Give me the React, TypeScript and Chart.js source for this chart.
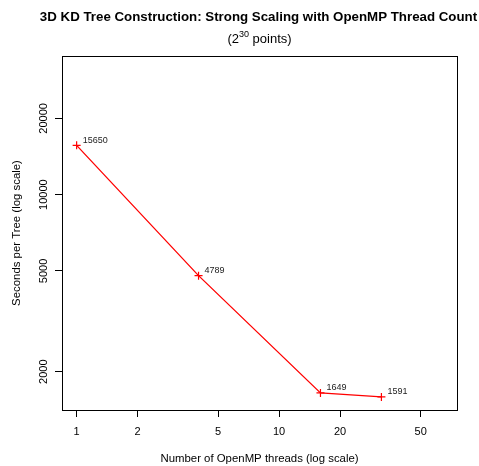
import React, { useEffect, useRef } from "react";
import { Chart, registerables } from "chart.js";

Chart.register(...registerables);

// ---- data ----
const threads = [1, 4, 16, 32];
const secondsPerTree = [15650, 4789, 1649, 1591];
const pointLabels = ["15650", "4789", "1649", "1591"];
const xTickValues = [1, 2, 5, 10, 20, 50];
const yTickValues = [2000, 5000, 10000, 20000];
const titleText = "3D KD Tree Construction: Strong Scaling with OpenMP Thread Count";
const subtitleBase = "(2";
const subtitleSup = "30";
const subtitleRest = " points)";
const xTitle = "Number of OpenMP threads (log scale)";
const yTitle = "Seconds per Tree (log scale)";
// R-style limits (xlim = c(1, 64), ylim = range(y)*c(1,2)) with 4% padding in log space
const xLim = [1, 64];
const yLim = [1591, 31300];

const FONT = "'Liberation Sans', Arial, Helvetica, sans-serif";

function padLog(lim: number[]) {
  const a = Math.log10(lim[0]);
  const b = Math.log10(lim[1]);
  const d = (b - a) * 0.04;
  return [Math.pow(10, a - d), Math.pow(10, b + d)];
}

export default function App() {
  const ref = useRef<HTMLCanvasElement | null>(null);

  useEffect(() => {
    if (!ref.current) return;
    const [xmin, xmax] = padLog(xLim);
    const [ymin, ymax] = padLog(yLim);

    const boxPlugin = {
      id: "rbox",
      afterDraw(chart: any) {
        const { ctx, chartArea } = chart;
        ctx.save();
        ctx.strokeStyle = "#000";
        ctx.lineWidth = 1;
        ctx.strokeRect(
          Math.round(chartArea.left) + 0.5,
          Math.round(chartArea.top) + 0.5,
          Math.round(chartArea.right - chartArea.left),
          Math.round(chartArea.bottom - chartArea.top)
        );
        ctx.restore();
      },
    };

    const titlePlugin = {
      id: "rtitle",
      afterDraw(chart: any) {
        const { ctx, chartArea } = chart;
        const cx = (chartArea.left + chartArea.right) / 2;
        ctx.save();
        ctx.fillStyle = "#000";
        ctx.textBaseline = "alphabetic";
        ctx.textAlign = "center";
        ctx.font = `bold 13.3px ${FONT}`;
        ctx.fillText(titleText, cx - 1, 21);
        ctx.textAlign = "left";
        ctx.font = `13px ${FONT}`;
        const w1 = ctx.measureText(subtitleBase).width;
        const w3 = ctx.measureText(subtitleRest).width;
        ctx.font = `9px ${FONT}`;
        const w2 = ctx.measureText(subtitleSup).width;
        let x = cx - (w1 + w2 + w3) / 2;
        ctx.font = `13px ${FONT}`;
        ctx.fillText(subtitleBase, x, 43);
        x += w1;
        ctx.font = `9px ${FONT}`;
        ctx.fillText(subtitleSup, x, 37);
        x += w2;
        ctx.font = `13px ${FONT}`;
        ctx.fillText(subtitleRest, x, 43);
        ctx.restore();
      },
    };

    const labelPlugin = {
      id: "rlabels",
      afterDatasetsDraw(chart: any) {
        const { ctx } = chart;
        const meta = chart.getDatasetMeta(0);
        ctx.save();
        ctx.fillStyle = "#222";
        ctx.font = `9px ${FONT}`;
        ctx.textAlign = "left";
        ctx.textBaseline = "middle";
        meta.data.forEach((el: any, i: number) => {
          ctx.fillText(pointLabels[i], el.x + 6, el.y - 5);
        });
        ctx.restore();
      },
    };

    const chart = new Chart(ref.current, {
      type: "line",
      data: {
        datasets: [
          {
            data: threads.map((t, i) => ({ x: t, y: secondsPerTree[i] })),
            borderColor: "#ff0000",
            backgroundColor: "#ff0000",
            borderWidth: 1.3,
            pointStyle: "cross",
            pointRadius: 4,
            pointBorderWidth: 1.2,
            pointBorderColor: "#ff0000",
            fill: false,
            tension: 0,
          },
        ],
      },
      options: {
        animation: false,
        responsive: false,
        devicePixelRatio: 1,
        layout: { padding: { left: 0, right: 22, top: 56, bottom: 0 } },
        plugins: {
          legend: { display: false },
          title: { display: false },
          tooltip: { enabled: false },
        },
        scales: {
          x: {
            type: "logarithmic",
            min: xmin,
            max: xmax,
            afterBuildTicks: (s: any) => {
              s.ticks = xTickValues.map((v) => ({ value: v }));
            },
            afterFit: (s: any) => {
              s.height = 56;
            },
            ticks: {
              autoSkip: false,
              maxRotation: 0,
              minRotation: 0,
              padding: 8,
              color: "#000",
              font: { family: FONT, size: 11 },
              callback: (v: any) => String(v),
            },
            grid: {
              display: true,
              drawOnChartArea: false,
              drawTicks: true,
              tickLength: 7,
              color: "#000",
              lineWidth: 1,
            },
            border: { display: false },
            title: {
              display: true,
              text: xTitle,
              color: "#000",
              font: { family: FONT, size: 11.4 },
              padding: { top: 0, bottom: 0 },
            },
          },
          y: {
            type: "logarithmic",
            min: ymin,
            max: ymax,
            afterBuildTicks: (s: any) => {
              s.ticks = yTickValues.map((v) => ({ value: v }));
            },
            afterFit: (s: any) => {
              s.width = 62;
            },
            ticks: {
              autoSkip: false,
              minRotation: 90,
              maxRotation: 90,
              crossAlign: "center",
              padding: -4,
              color: "#000",
              font: { family: FONT, size: 11 },
              callback: (v: any) => String(v),
            },
            grid: {
              display: true,
              drawOnChartArea: false,
              drawTicks: true,
              tickLength: 7,
              color: "#000",
              lineWidth: 1,
            },
            border: { display: false },
            title: {
              display: true,
              text: yTitle,
              color: "#000",
              font: { family: FONT, size: 11.4 },
              padding: { top: 10, bottom: 0 },
            },
          },
        },
      },
      plugins: [boxPlugin, titlePlugin, labelPlugin],
    } as any);

    return () => chart.destroy();
  }, []);

  return (
    <div style={{ position: "fixed", left: 0, top: 0, width: 479, height: 466, background: "#fff" }}>
      <canvas ref={ref} width={479} height={466} style={{ width: 479, height: 466, display: "block" }} />
    </div>
  );
}
